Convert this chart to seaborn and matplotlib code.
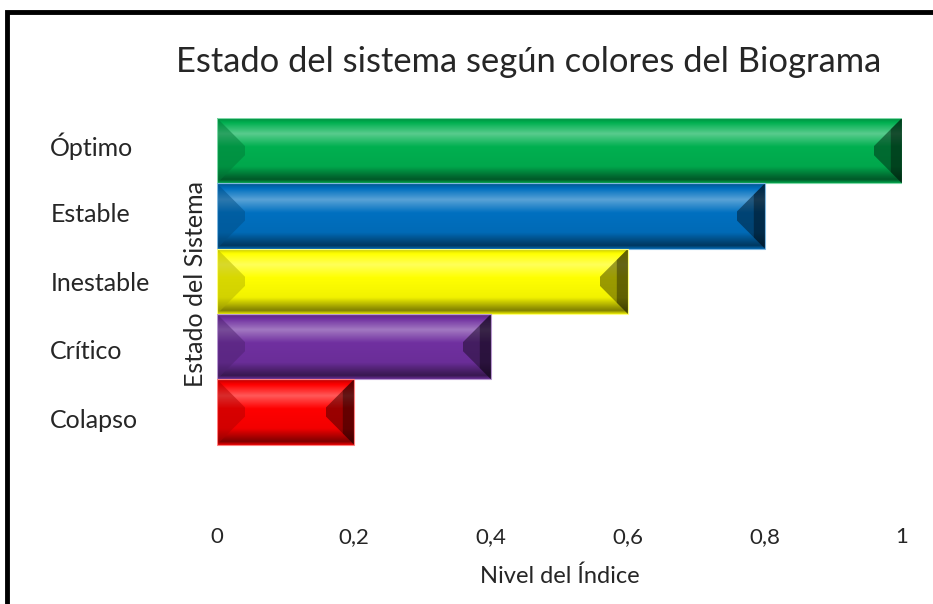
import numpy as np
import pandas as pd
import seaborn as sns
import matplotlib.pyplot as plt
from matplotlib.patches import Polygon, Rectangle
from matplotlib.colors import to_rgb

estados = ['Óptimo', 'Estable', 'Inestable', 'Crítico', 'Colapso']
niveles = [1.0, 0.8, 0.6, 0.4, 0.2]
colores = ['#00B050', '#0070C0', '#FFFF00', '#7030A0', '#FF0000']
ticks = [0, 0.2, 0.4, 0.6, 0.8, 1]
tick_labels = ['0', '0,2', '0,4', '0,6', '0,8', '1']

sns.set_style('white')
plt.rcParams['font.family'] = ['Lato', 'DejaVu Sans']

df = pd.DataFrame({'estado': estados, 'nivel': niveles})

fig = plt.figure(figsize=(9.33, 6.04), dpi=100)
ax = fig.add_axes([217 / 933, 1 - 510 / 604, 685 / 933, 392 / 604])

sns.barplot(data=df, x='nivel', y='estado', hue='estado', palette=colores,
            orient='h', width=1.0, legend=False, ax=ax, saturation=1)

ax.set_xlim(0, 1)
ax.set_ylim(5.5, -0.5)

# bevel look: vertical shading clipped to each bar + end bevels
perfil_t = [0.0, 0.08, 0.25, 0.45, 0.75, 0.88, 0.95, 1.0]
perfil_v = [-0.25, 0.0, 0.35, 0.0, -0.05, -0.35, -0.5, -0.1]
t = np.linspace(0, 1, 120)
sh = np.interp(t, perfil_t, perfil_v)
bx = 28 / 685
for p in list(ax.patches):
    x0, w = p.get_x(), p.get_width()
    y0, h = p.get_y(), p.get_height()
    base = np.array(to_rgb(p.get_facecolor()))
    img = np.zeros((len(t), 1, 3))
    for i, s in enumerate(sh):
        if s >= 0:
            img[i, 0] = base + (1 - base) * s
        else:
            img[i, 0] = base * (1 + s)
    im = ax.imshow(img, extent=(x0, x0 + w, y0 + h, y0), aspect='auto',
                   interpolation='bilinear', zorder=3)
    im.set_clip_path(p)
    by = 0.43 * h
    x1 = x0 + w
    izq = Polygon([(x0, y0), (x0 + bx, y0 + by), (x0 + bx, y0 + h - by), (x0, y0 + h)],
                  closed=True, facecolor=base * 0.7, alpha=0.5, lw=0, zorder=4)
    der = Polygon([(x1, y0), (x1 - bx, y0 + by), (x1 - bx, y0 + h - by), (x1, y0 + h)],
                  closed=True, facecolor=base * 0.35, alpha=0.6, lw=0, zorder=4)
    der2 = Polygon([(x1, y0), (x1 - bx * 0.4, y0 + by * 0.4), (x1 - bx * 0.4, y0 + h - by * 0.4), (x1, y0 + h)],
                   closed=True, facecolor='black', alpha=0.35, lw=0, zorder=4)
    ax.add_patch(izq)
    ax.add_patch(der)
    ax.add_patch(der2)
    borde = Rectangle((x0, y0), w, h, fill=False,
                      edgecolor=base + (1 - base) * 0.5, lw=0.8, zorder=5)
    ax.add_patch(borde)

for s in ax.spines.values():
    s.set_visible(False)

ax.set_xticks(ticks)
ax.set_xticklabels(tick_labels, fontsize=16)
ax.tick_params(axis='x', length=0, pad=12.5)
ax.set_yticks([2 + (i - 2) * 1.047 for i in range(len(estados))])
ax.set_yticklabels(estados, fontsize=18)
ax.tick_params(axis='y', length=0, pad=120)
for lab in ax.get_yticklabels():
    lab.set_horizontalalignment('left')

ax.set_xlabel('Nivel del Índice', fontsize=17, labelpad=13)
ax.set_ylabel('Estado del Sistema', fontsize=18)
ax.yaxis.set_label_coords(-0.014, 0.577)

fig.text(529 / 933, 1 - 62 / 604, 'Estado del sistema según colores del Biograma',
         fontsize=24.8, ha='center', va='center')

marco = Rectangle((7 / 933, -0.2), 1.2, 1 - 12 / 604 + 0.2, fill=False,
                  edgecolor='black', lw=3.5, transform=fig.transFigure)
fig.patches.append(marco)

fig.savefig('out.png', dpi=100)
